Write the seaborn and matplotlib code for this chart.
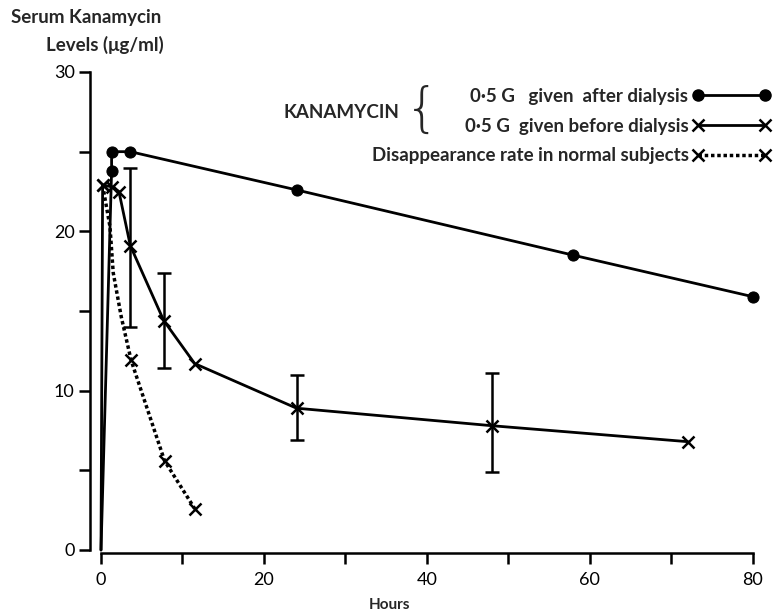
import matplotlib
matplotlib.use("Agg")
import matplotlib.pyplot as plt
from matplotlib.lines import Line2D
from matplotlib.ticker import MultipleLocator
import seaborn as sns
import pandas as pd

# ---- data ----
hours_after = [0, 1.3, 1.3, 3.6, 24, 58, 80]
level_after = [0, 23.8, 25.0, 25.0, 22.6, 18.5, 15.9]

hours_before = [0, 0.2, 1.3, 2.2, 3.6, 7.7, 11.5, 24, 48, 72]
level_before = [0, 22.9, 22.8, 22.5, 19.1, 14.4, 11.7, 8.9, 7.8, 6.8]

hours_normal = [0.2, 1.1, 1.5, 2.5, 3.7, 7.8, 11.5]
level_normal = [22.9, 20.3, 17.4, 14.6, 11.9, 5.6, 2.6]
normal_marked = [0, 4, 5, 6]

err_hours = [3.6, 7.7, 24, 48]
err_center = [19.1, 14.4, 8.9, 7.8]
err_low = [14.0, 11.4, 6.9, 4.9]
err_high = [24.0, 17.4, 11.0, 11.1]

x_ticks = [0, 20, 40, 60, 80]
y_ticks = [0, 10, 20, 30]

label_after = "0·5 G   given  after dialysis"
label_before = "0·5 G  given before dialysis"
label_normal = "Disappearance rate in normal subjects"

sns.set_style("ticks")
FONT = ["Lato", "DejaVu Sans"]
plt.rcParams["font.family"] = FONT

W, H = 773, 616
fig = plt.figure(figsize=(W / 100, H / 100), dpi=100)
ax = fig.add_axes([101 / W, (H - 550) / H, (752.7 - 101) / W, (550 - 72) / H])

df_after = pd.DataFrame({"h": hours_after, "v": level_after})
df_before = pd.DataFrame({"h": hours_before, "v": level_before})
df_normal = pd.DataFrame({"h": hours_normal, "v": level_normal})

LW = 2.0
DOTTED = (0, (1.0, 0.8))
sns.lineplot(data=df_after, x="h", y="v", sort=False, estimator=None, ax=ax,
             color="black", lw=LW, marker="o", markersize=8,
             markevery=list(range(1, len(hours_after))), clip_on=False,
             markeredgecolor="black")
sns.lineplot(data=df_before, x="h", y="v", sort=False, estimator=None, ax=ax,
             color="black", lw=LW, marker="x", markersize=8, markeredgewidth=1.8,
             markeredgecolor="black",
             markevery=list(range(1, len(hours_before))), clip_on=False)
sns.lineplot(data=df_normal, x="h", y="v", sort=False, estimator=None, ax=ax,
             color="black", lw=LW + 0.5, linestyle=DOTTED, marker="x",
             markersize=8, markeredgewidth=1.8, markeredgecolor="black",
             markevery=normal_marked, clip_on=False)

yerr = [[c - l for c, l in zip(err_center, err_low)],
        [h - c for c, h in zip(err_center, err_high)]]
ax.errorbar(err_hours, err_center, yerr=yerr, fmt="none", ecolor="black",
            elinewidth=1.8, capsize=5, capthick=1.8)

ax.set_xlim(0, 80)
ax.set_ylim(0, 30)
ax.set_xticks(x_ticks)
ax.set_yticks(y_ticks)
ax.xaxis.set_minor_locator(MultipleLocator(10))
ax.yaxis.set_minor_locator(MultipleLocator(5))
ax.tick_params(axis="both", which="major", length=8, width=1.8, labelsize=13,
               color="black", labelcolor="black")
ax.tick_params(axis="both", which="minor", length=8, width=1.8, color="black")
ax.tick_params(axis="x", pad=6)
ax.tick_params(axis="y", pad=3)
ax.set_xlabel("")
ax.set_ylabel("")
sns.despine(ax=ax)
ax.spines["left"].set_position(("outward", 8))
ax.spines["bottom"].set_position(("outward", 2))
for s in ("left", "bottom"):
    ax.spines[s].set_linewidth(1.8)
    ax.spines[s].set_color("black")

fig.text(86 / W, 1 - 18 / H, "Serum Kanamycin", ha="center", va="center",
         fontsize=13.5, fontweight="bold")
fig.text(105 / W, 1 - 45 / H, "Levels (μg/ml)", ha="center", va="center",
         fontsize=13.5, fontweight="bold")
fig.text(390 / W, 1 - 605 / H, "Hours", ha="center", va="center",
         fontsize=11, fontweight="bold")

handles = [
    Line2D([], [], color="black", lw=LW, marker="o", markersize=8),
    Line2D([], [], color="black", lw=LW, marker="x", markersize=8, markeredgewidth=1.8),
    Line2D([], [], color="black", lw=LW + 0.5, linestyle=DOTTED, marker="x",
           markersize=8, markeredgewidth=1.8),
]
FS = 13.5
leg = ax.legend(handles, [label_after, label_before, label_normal],
                loc="upper right", bbox_to_anchor=(771 / W, 1 - 88 / H),
                bbox_transform=fig.transFigure, frameon=False, markerfirst=False,
                numpoints=2, handlelength=4.2, handletextpad=0.2,
                labelspacing=0.68, borderpad=0, borderaxespad=0,
                prop={"weight": "bold", "size": FS, "family": FONT})

ax.text((283 - 101) / 8.146, (550 - 113) / 15.93, "KANAMYCIN", ha="left",
        va="center", fontsize=FS, fontweight="bold")
ax.text((422 - 101) / 8.146, (550 - 111) / 15.93, "{", ha="center", va="center",
        fontsize=39, fontfamily="DejaVu Sans", fontweight="light")

fig.savefig("out.png", dpi=100, facecolor="white")
